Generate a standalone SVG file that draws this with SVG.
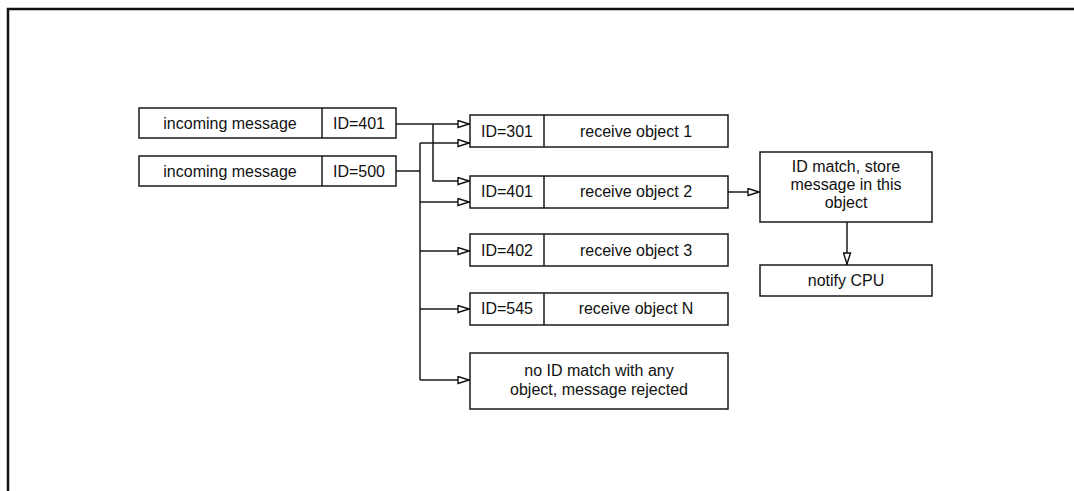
<svg xmlns="http://www.w3.org/2000/svg" width="1074" height="491" viewBox="0 0 1074 491">
<defs>
<marker id="arr" viewBox="0 0 13 9" refX="13" refY="4.5" markerWidth="13" markerHeight="9" markerUnits="userSpaceOnUse" orient="auto">
<path d="M1,1 L12,4.5 L1,8 Z" fill="#fff" stroke="#111" stroke-width="1.4"/>
</marker>
</defs>
<style>
.box{fill:#fff;stroke:#1a1a1a;stroke-width:1.5}
.div{stroke:#1a1a1a;stroke-width:1.5}
.t{font-family:"Liberation Sans",Arial,sans-serif;font-size:16px;fill:#111;text-anchor:middle}
.c{fill:none;stroke:#1a1a1a;stroke-width:1.5}
.frame{fill:none;stroke:#111;stroke-width:2.5}
</style>
<rect width="1074" height="491" fill="#fff"/>
<path class="frame" d="M8,491 L8,9 L1074,9"/>

<g id="in1">
<rect class="box" x="139" y="108" width="257" height="30"/>
<line class="div" x1="322" y1="108" x2="322" y2="138"/>
<text class="t" x="230" y="129">incoming message</text>
<text class="t" x="359" y="129">ID=401</text>
</g>
<g id="in2">
<rect class="box" x="139" y="156" width="257" height="30"/>
<line class="div" x1="322" y1="156" x2="322" y2="186"/>
<text class="t" x="230" y="177">incoming message</text>
<text class="t" x="359" y="177">ID=500</text>
</g>

<g id="obj1">
<rect class="box" x="470" y="115" width="258" height="32"/>
<line class="div" x1="544" y1="115" x2="544" y2="147"/>
<text class="t" x="507" y="137">ID=301</text>
<text class="t" x="636" y="137">receive object 1</text>
</g>
<g id="obj2">
<rect class="box" x="470" y="176" width="258" height="32"/>
<line class="div" x1="544" y1="176" x2="544" y2="208"/>
<text class="t" x="507" y="197">ID=401</text>
<text class="t" x="636" y="197">receive object 2</text>
</g>
<g id="obj3">
<rect class="box" x="470" y="234" width="258" height="32"/>
<line class="div" x1="544" y1="234" x2="544" y2="266"/>
<text class="t" x="507" y="256">ID=402</text>
<text class="t" x="636" y="256">receive object 3</text>
</g>
<g id="objN">
<rect class="box" x="470" y="293" width="258" height="32"/>
<line class="div" x1="544" y1="293" x2="544" y2="325"/>
<text class="t" x="507" y="314">ID=545</text>
<text class="t" x="636" y="314">receive object N</text>
</g>
<g id="nomatch">
<rect class="box" x="470" y="353" width="258" height="56"/>
<text class="t" x="599" y="376">no ID match with any</text>
<text class="t" x="599" y="395">object, message rejected</text>
</g>
<g id="store">
<rect class="box" x="760" y="152" width="172" height="70"/>
<text class="t" x="846" y="172">ID match, store</text>
<text class="t" x="846" y="190">message in this</text>
<text class="t" x="846" y="208">object</text>
</g>
<g id="notify">
<rect class="box" x="760" y="265" width="172" height="31"/>
<text class="t" x="846" y="286">notify CPU</text>
</g>

<g id="connectors">
<path class="c" d="M396,124 L470,124" marker-end="url(#arr)"/>
<path class="c" d="M433,124 L433,181 L470,181" marker-end="url(#arr)"/>
<path class="c" d="M396,171 L420,171"/>
<path class="c" d="M420,143 L470,143" marker-end="url(#arr)"/>
<path class="c" d="M420,143 L420,380"/>
<path class="c" d="M420,202 L470,202" marker-end="url(#arr)"/>
<path class="c" d="M420,251 L470,251" marker-end="url(#arr)"/>
<path class="c" d="M420,309 L470,309" marker-end="url(#arr)"/>
<path class="c" d="M420,380 L470,380" marker-end="url(#arr)"/>
<path class="c" d="M728,192 L760,192" marker-end="url(#arr)"/>
<path class="c" d="M847,222 L847,265" marker-end="url(#arr)"/>
</g>
</svg>
